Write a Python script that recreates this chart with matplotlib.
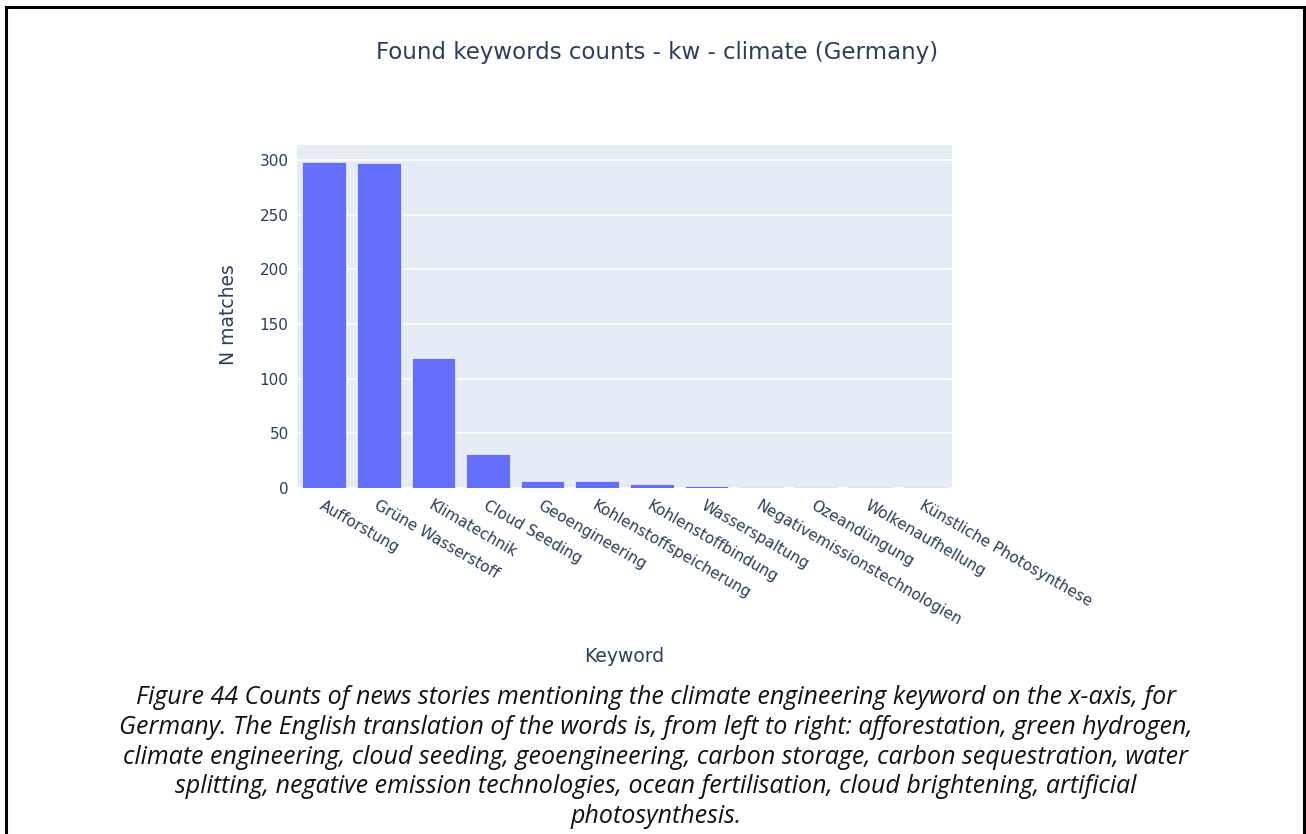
import matplotlib
matplotlib.use("Agg")
import matplotlib.pyplot as plt
from matplotlib.lines import Line2D

keywords = ["Aufforstung", "Grüne Wasserstoff", "Klimatechnik", "Cloud Seeding",
            "Geoengineering", "Kohlenstoffspeicherung", "Kohlenstoffbindung",
            "Wasserspaltung", "Negativemissionstechnologien", "Ozeandüngung",
            "Wolkenaufhellung", "Künstliche Photosynthese"]
counts = [298, 297, 119, 31, 6, 6, 4, 2, 1, 1, 1, 1]
yticks = [0, 50, 100, 150, 200, 250, 300]

title = "Found keywords counts - kw - climate (Germany)"
xlabel = "Keyword"
ylabel = "N matches"
caption = ("Figure 44 Counts of news stories mentioning the climate engineering keyword on the x-axis, for\n"
           "Germany. The English translation of the words is, from left to right: afforestation, green hydrogen,\n"
           "climate engineering, cloud seeding, geoengineering, carbon storage, carbon sequestration, water\n"
           "splitting, negative emission technologies, ocean fertilisation, cloud brightening, artificial\n"
           "photosynthesis.")

W, H = 1306, 834
fig = plt.figure(figsize=(W / 100, H / 100), dpi=100)
plt.rcParams['font.family'] = ['DejaVu Sans']
txt = "#2a3f5f"

ax = fig.add_axes([297 / W, 1 - 488 / H, (952 - 297) / W, (488 - 145) / H])
ax.set_facecolor("#E5ECF6")
x = list(range(len(keywords)))
ax.bar(x, counts, width=0.8, color="#636EFA", edgecolor="#E5ECF6", linewidth=0.6, zorder=3)
ax.set_xlim(-0.5, len(keywords) - 0.5)
ax.set_ylim(0, max(counts) * 1.053)
ax.set_yticks(yticks)
ax.grid(axis="y", color="white", linewidth=1.2, zorder=0)
ax.set_axisbelow(True)
for s in ax.spines.values():
    s.set_visible(False)
ax.tick_params(axis="both", length=0, colors=txt, labelsize=11)
ax.tick_params(axis="y", pad=6)
ax.set_xticks(x)
ax.set_xticklabels(keywords, rotation=-30, ha="left", va="top", rotation_mode="anchor")
ax.tick_params(axis="x", pad=7)

fig.text(657 / W, 1 - 52 / H, title, ha="center", va="center", fontsize=16.5, color=txt)
fig.text(228 / W, 1 - 315 / H, ylabel, ha="center", va="center", rotation=90, fontsize=13.5, color=txt)
fig.text(624 / W, 1 - 657 / H, xlabel, ha="center", va="center", fontsize=13.5, color=txt)
fig.text(656 / W, 1 - 757 / H, caption, ha="center", va="center", fontsize=18,
         style="italic", color="#111111", linespacing=1.26, family="Open Sans")

# frame (open at bottom)
lw = 2.2
fig.add_artist(Line2D([6 / W, 1304 / W], [1 - 7 / H, 1 - 7 / H], color="black", lw=lw, transform=fig.transFigure))
fig.add_artist(Line2D([6 / W, 6 / W], [1 - 7 / H, 0], color="black", lw=lw, transform=fig.transFigure))
fig.add_artist(Line2D([1304 / W, 1304 / W], [1 - 7 / H, 0], color="black", lw=lw, transform=fig.transFigure))

fig.savefig("out.png", dpi=100, facecolor="white")
